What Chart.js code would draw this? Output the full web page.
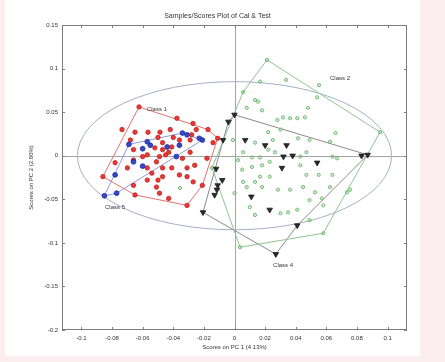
<!DOCTYPE html>
<html>
<head>
<meta charset="utf-8">
<script src="https://cdn.jsdelivr.net/npm/chart.js@4/dist/chart.umd.min.js"></script>
<style>
    html, body { margin: 0; padding: 0; background: #fcedf0; }
    #paper { position: absolute; left: 5px; top: 0; width: 415px; height: 356px; background: #fff; }
    #scores { position: absolute; left: 0; top: 0; filter: blur(0.4px); }
</style>
</head>
<body>
<div id="paper"></div>
<canvas id="scores" width="445" height="362"></canvas>
<script>
// ============================================================
// Samples/Scores plot (PC1 vs PC2) with class hulls
// ============================================================

const X_TICKS = [-0.1, -0.08, -0.06, -0.04, -0.02, 0, 0.02, 0.04, 0.06, 0.08, 0.1];
const X_TICK_LABELS = ['-0.1', '-0.08', '-0.06', '-0.04', '-0.02', '0', '0.02', '0.04', '0.06', '0.08', '0.1'];
const Y_TICKS = [0.15, 0.1, 0.05, 0, -0.05, -0.1, -0.15, -0.2];
const Y_TICK_LABELS = ['0.15', '0.1', '0.05', '0', '-0.05', '-0.1', '-0.15', '-0.2'];

// scores [PC1, PC2] per class
const CLASS1 = [
    [-0.0624, 0.056], [-0.0376, 0.043], [-0.0271, 0.037], [-0.0173, 0.030], [-0.0735, 0.030],
    [-0.065, 0.027], [-0.0565, 0.027], [-0.0487, 0.027], [-0.042, 0.030], [-0.050, 0.021],
    [-0.040, 0.021], [-0.047, 0.015], [-0.052, 0.009], [-0.047, 0.007], [-0.045, 0.001],
    [-0.049, -0.001], [-0.043, 0.004], [-0.041, 0.010], [-0.066, 0.007], [-0.057, 0.001],
    [-0.066, -0.005], [-0.051, -0.007], [-0.070, -0.014], [-0.057, -0.014], [-0.047, -0.014],
    [-0.041, -0.014], [-0.054, -0.020], [-0.047, -0.024], [-0.057, -0.028], [-0.050, -0.028],
    [-0.031, -0.014], [-0.026, -0.011], [-0.086, -0.024], [-0.066, -0.034], [-0.051, -0.036],
    [-0.049, -0.043], [-0.065, -0.045], [-0.043, -0.049], [-0.031, -0.057], [-0.021, -0.034],
    [-0.027, -0.030], [-0.036, -0.022], [-0.034, -0.003], [-0.029, 0.004], [-0.036, 0.018],
    [-0.029, 0.018], [-0.028, 0.024], [-0.014, 0.015], [-0.011, 0.020], [-0.018, -0.003],
    [-0.031, -0.024], [-0.068, 0.018], [-0.060, -0.001], [-0.078, -0.008], [-0.025, 0.030]
];
const CLASS2 = [
    [0.0212, 0.110], [0.0167, 0.085], [0.0337, 0.087], [0.0552, 0.081], [0.0951, 0.027],
    [0.0056, 0.073], [0.0154, 0.062], [0.018, 0.052], [0.028, 0.041], [0.0317, 0.044],
    [0.0363, 0.043], [0.041, 0.043], [0.048, 0.055], [0.054, 0.067], [0.022, 0.027],
    [0.030, 0.030], [0.0415, 0.020], [0.049, 0.018], [0.066, 0.026], [0.025, 0.018],
    [0.0134, 0.015], [0.0056, 0.004], [0.0114, -0.002], [0.0167, -0.002], [0.022, 0.007],
    [0.0265, 0.004], [0.023, -0.007], [0.018, -0.011], [0.0114, -0.013], [0.005, -0.016],
    [0.0167, -0.024], [0.023, -0.024], [0.043, -0.011], [0.047, -0.022], [0.055, -0.022],
    [0.064, -0.022], [0.067, -0.003], [0.043, -0.001], [0.047, 0.004], [0.0056, -0.030],
    [0.0134, -0.030], [0.018, -0.036], [0.0284, -0.039], [0.0363, -0.039], [0.0448, -0.036],
    [0.0526, -0.042], [0.0624, -0.036], [0.0735, -0.042], [0.010, -0.059], [0.0134, -0.068],
    [0.030, -0.066], [0.035, -0.065], [0.041, -0.062], [0.049, -0.051], [0.058, -0.057],
    [0.049, -0.074], [0.058, -0.089], [0.0036, -0.105], [0.000, -0.043], [-0.001, 0.018],
    [0.0624, 0.016], [0.064, -0.001], [0.0755, -0.039], [0.057, -0.049], [0.046, 0.044],
    [0.008, 0.055], [0.0134, 0.064], [0.0023, -0.005], [0.008, -0.036], [-0.0147, -0.014],
    [-0.0356, -0.037]
];
const CLASS4 = [
    [0.000, 0.047], [-0.004, 0.039], [-0.0075, 0.018], [0.007, 0.018], [0.020, 0.012],
    [0.034, 0.012], [0.032, -0.001], [0.038, 0.000], [0.031, -0.014], [0.054, -0.008],
    [0.083, 0.000], [0.087, 0.001], [0.011, -0.047], [0.023, -0.062], [0.041, -0.080],
    [0.027, -0.113], [-0.012, -0.015], [-0.008, -0.028], [-0.011, -0.034], [-0.0115, -0.039],
    [-0.013, -0.045], [-0.0206, -0.065]
];
const CLASS5 = [
    [-0.069, 0.013], [-0.060, 0.008], [-0.057, 0.016], [-0.060, -0.012], [-0.066, -0.007],
    [-0.078, -0.022], [-0.077, -0.043], [-0.085, -0.046], [-0.034, 0.026], [-0.031, 0.024],
    [-0.021, 0.018], [-0.044, 0.010], [-0.036, 0.012], [-0.038, -0.001], [-0.055, 0.012],
    [-0.023, 0.020]
];

// hull vertices (closed)
const HULL1 = [[-0.0624, 0.056], [-0.0173, 0.030], [-0.011, 0.020], [-0.021, -0.034], [-0.031, -0.057],
               [-0.065, -0.045], [-0.086, -0.024], [-0.0624, 0.056]];
const HULL2 = [[0.0212, 0.110], [0.0951, 0.027], [0.058, -0.089], [0.0036, -0.105], [-0.0147, -0.014],
               [0.0056, 0.073], [0.0212, 0.110]];
const HULL4 = [[0.000, 0.047], [0.087, 0.001], [0.041, -0.080], [0.027, -0.113], [-0.0206, -0.065],
               [-0.004, 0.039], [0.000, 0.047]];
const HULL5 = [[-0.085, -0.046], [-0.069, 0.013], [-0.034, 0.026], [-0.021, 0.018], [-0.077, -0.043],
               [-0.085, -0.046]];

// confidence ellipse semi-axes (data units)
const ELLIPSE_RX = 0.1026;
const ELLIPSE_RY = 0.085;

const CLASS_LABELS = [
    { text: 'Class 1', x: -0.0572, y: 0.0536 },
    { text: 'Class 2', x: 0.0624, y: 0.0892 },
    { text: 'Class 4', x: 0.0252, y: -0.1255 },
    { text: 'Class 5', x: -0.0846, y: -0.0589 }
];

const toXY = (pts) => pts.map(p => ({ x: p[0], y: p[1] }));
const FONT = 'Liberation Sans, Arial, sans-serif';
const TEXT_COLOR = '#333';

// ── Decorations: crosshair, ellipse, box, inward ticks, labels ──
const decorations = {
    id: 'decorations',
    beforeDatasetsDraw(chart) {
        const { ctx, chartArea: a, scales: { x, y } } = chart;
        ctx.save();
        ctx.strokeStyle = '#a4a4a4';
        ctx.lineWidth = 1;
        const x0 = Math.round(x.getPixelForValue(0)) + 0.5;
        const y0 = Math.round(y.getPixelForValue(0)) + 0.5;
        ctx.beginPath();
        ctx.moveTo(x0, a.top); ctx.lineTo(x0, a.bottom);
        ctx.moveTo(a.left, y0); ctx.lineTo(a.right, y0);
        ctx.stroke();

        const rx = x.getPixelForValue(ELLIPSE_RX) - x.getPixelForValue(0);
        const ry = y.getPixelForValue(0) - y.getPixelForValue(ELLIPSE_RY);
        ctx.strokeStyle = '#a2b0c6';
        ctx.beginPath();
        ctx.ellipse(x.getPixelForValue(0), y.getPixelForValue(0), rx, ry, 0, 0, Math.PI * 2);
        ctx.stroke();
        ctx.restore();
    },
    afterDraw(chart) {
        const { ctx, chartArea: a, scales: { x, y } } = chart;
        ctx.save();
        ctx.strokeStyle = '#7c7c7c';
        ctx.lineWidth = 1;
        ctx.strokeRect(Math.round(a.left) + 0.5, Math.round(a.top) + 0.5,
                       Math.round(a.right - a.left) - 1, Math.round(a.bottom - a.top) - 1);
        ctx.beginPath();
        X_TICKS.forEach(v => {
            const px = Math.round(x.getPixelForValue(v)) + 0.5;
            ctx.moveTo(px, a.bottom); ctx.lineTo(px, a.bottom - 3);
            ctx.moveTo(px, a.top); ctx.lineTo(px, a.top + 3);
        });
        Y_TICKS.forEach(v => {
            const py = Math.round(y.getPixelForValue(v)) + 0.5;
            ctx.moveTo(a.left, py); ctx.lineTo(a.left + 3, py);
            ctx.moveTo(a.right, py); ctx.lineTo(a.right - 3, py);
        });
        ctx.stroke();

        ctx.fillStyle = TEXT_COLOR;
        ctx.font = '6px ' + FONT;
        ctx.textBaseline = 'middle';
        CLASS_LABELS.forEach(l => {
            ctx.fillText(l.text, x.getPixelForValue(l.x), y.getPixelForValue(l.y));
        });
        ctx.restore();
    }
};

const hull = (pts, color) => ({
    data: toXY(pts),
    showLine: true,
    borderColor: color,
    borderWidth: 1,
    pointRadius: 0,
    fill: false,
    order: 5
});

document.addEventListener('DOMContentLoaded', () => {
    new Chart(document.getElementById('scores').getContext('2d'), {
        type: 'scatter',
        data: {
            datasets: [
                hull(HULL2, '#8fc48f'),
                hull(HULL4, '#8a8a8a'),
                hull(HULL1, '#e87070'),
                hull(HULL5, '#8a9be0'),
                {
                    label: 'Class 2', data: toXY(CLASS2), order: 4,
                    pointStyle: 'circle', pointRadius: 1.6, borderWidth: 0.9,
                    borderColor: '#66b466', backgroundColor: 'rgba(140,205,140,0.35)'
                },
                {
                    label: 'Class 1', data: toXY(CLASS1), order: 3,
                    pointStyle: 'circle', pointRadius: 2.2, borderWidth: 0.8,
                    borderColor: '#c41c1c', backgroundColor: '#e53a36'
                },
                {
                    label: 'Class 5', data: toXY(CLASS5), order: 2,
                    pointStyle: 'circle', pointRadius: 2.4, borderWidth: 0.8,
                    borderColor: '#1c2a9c', backgroundColor: '#3846c8'
                },
                {
                    label: 'Class 4', data: toXY(CLASS4), order: 1,
                    pointStyle: 'triangle', rotation: 180, pointRadius: 3.2, borderWidth: 0.8,
                    borderColor: '#1a1a1a', backgroundColor: '#2a2a2a'
                }
            ]
        },
        options: {
            responsive: false,
            animation: false,
            devicePixelRatio: 1,
            layout: { padding: { left: 28, right: 38, top: 0, bottom: 6 } },
            plugins: {
                legend: { display: false },
                tooltip: { enabled: false },
                title: {
                    display: true,
                    text: 'Samples/Scores Plot of Cal & Test',
                    color: TEXT_COLOR,
                    font: { family: FONT, size: 7, weight: 'normal' },
                    padding: { top: 12, bottom: 4.6 }
                }
            },
            scales: {
                x: {
                    type: 'linear',
                    min: -0.1127, max: 0.1127,
                    afterBuildTicks: (s) => { s.ticks = X_TICKS.map(v => ({ value: v })); },
                    afterFit: (s) => { s.height = 26; },
                    grid: { display: false, drawTicks: false },
                    border: { display: false },
                    ticks: {
                        color: TEXT_COLOR, padding: 5, maxRotation: 0, autoSkip: false,
                        font: { family: FONT, size: 6 },
                        callback: (v) => X_TICK_LABELS[X_TICKS.indexOf(v)] ?? ''
                    },
                    title: {
                        display: true, text: 'Scores on PC 1 (4.13%)', color: TEXT_COLOR,
                        font: { family: FONT, size: 6 }, padding: { top: 0, bottom: 5 }
                    }
                },
                y: {
                    type: 'linear',
                    min: -0.2, max: 0.15,
                    afterBuildTicks: (s) => { s.ticks = Y_TICKS.map(v => ({ value: v })); },
                    afterFit: (s) => { s.width = 34; },
                    grid: { display: false, drawTicks: false },
                    border: { display: false },
                    ticks: {
                        color: TEXT_COLOR, padding: 4, autoSkip: false,
                        font: { family: FONT, size: 6 },
                        callback: (v) => Y_TICK_LABELS[Y_TICKS.indexOf(v)] ?? ''
                    },
                    title: {
                        display: true, text: 'Scores on PC 2 (2.80%)', color: TEXT_COLOR,
                        font: { family: FONT, size: 6 }, padding: { top: 0, bottom: 0 }
                    }
                }
            }
        },
        plugins: [decorations]
    });
});
</script>
</body>
</html>
